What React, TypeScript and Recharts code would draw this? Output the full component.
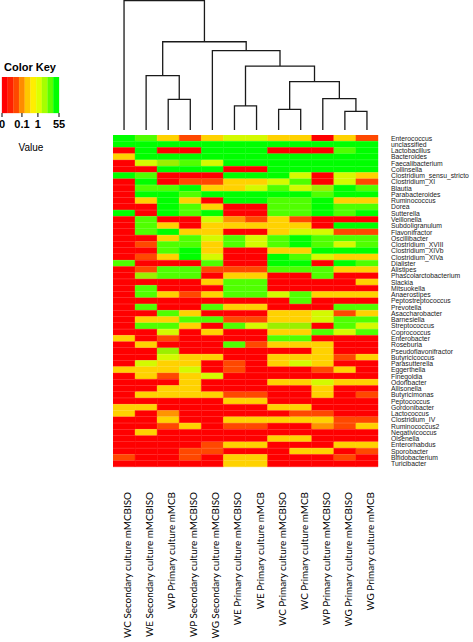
import React from "react";
import { BarChart, Bar, Cell, XAxis, YAxis, LineChart, Line } from "recharts";

// value levels
const R = 0, O = 0.03, A = 0.07, G = 0.2, Y = 1, V = 2.5, L = 8, F = 40;

const genera = [
  "Enterococcus", "unclassified", "Lactobacillus", "Bacteroides", "Faecalibacterium", "Collinsella",
  "Clostridium_sensu_stricto", "Clostridium_XI", "Blautia", "Parabacteroides", "Ruminococcus", "Dorea",
  "Sutterella", "Veillonella", "Subdoligranulum", "Flavonifractor", "Oscillibacter", "Clostridium_XVIII",
  "Clostridium_XIVb", "Clostridium_XIVa", "Dialister", "Alistipes", "Phascolarctobacterium", "Slackia",
  "Mitsuokella", "Anaerostipes", "Peptostreptococcus", "Prevotella", "Asaccharobacter", "Barnesiella",
  "Streptococcus", "Coprococcus", "Enterobacter", "Roseburia", "Pseudoflavonifractor", "Butyricicoccus",
  "Parasutterella", "Eggerthella", "Finegoldia", "Odoribacter", "Allisonella", "Butyricimonas",
  "Peptococcus", "Gordonibacter", "Lactococcus", "Clostridium_IV", "Ruminococcus2", "Negativicoccus",
  "Olsenella", "Enterorhabdus", "Sporobacter", "Bifidobacterium", "Turicibacter",
];

const samples = [
  "WC Secondary culture mMCBISO", "WE Secondary culture mMCBISO", "WP Primary culture mMCB",
  "WP Secondary culture mMCBISO", "WG Secondary culture mMCBISO", "WE Primary culture mMCBISO",
  "WE Primary culture mMCB", "WC Primary culture mMCBISO", "WC Primary culture mMCB",
  "WP Primary culture mMCBISO", "WG Primary culture mMCBISO", "WG  Primary culture mMCB",
];

const wcSecondaryISO = [F,F,R,G,R,R,F,R,R,R,R,R,F,R,R,R,R,R,R,R,L,R,R,R,R,R,R,R,R,R,R,R,G,R,R,R,R,G,R,R,R,R,R,G,G,R,R,R,R,R,R,O,R];
const weSecondaryISO = [L,F,F,F,Y,R,L,F,L,F,G,R,R,L,L,L,R,O,R,O,R,O,V,R,L,L,R,L,R,G,L,R,R,G,R,R,Y,G,G,R,R,G,R,G,R,R,R,G,R,R,R,R,R];
const wpPrimary = [G,F,R,F,V,F,R,R,L,F,F,F,F,R,G,F,G,L,L,G,R,L,L,R,R,G,R,R,L,G,L,Y,O,R,V,Y,G,G,O,R,G,G,R,R,A,G,O,R,R,R,R,R,R];
const wpSecondaryISO = [O,F,R,F,L,F,R,O,F,L,G,L,L,R,R,G,L,L,F,F,R,L,L,R,R,O,R,R,G,L,G,R,R,R,R,G,G,Y,G,G,G,G,R,R,R,R,G,R,R,R,O,O,R];
const wgSecondaryISO = [G,F,F,F,Y,F,R,O,G,F,R,G,F,Y,G,G,Y,G,G,Y,L,O,R,G,R,G,R,L,R,L,R,G,R,R,R,G,R,R,Y,R,R,G,R,R,R,R,R,R,R,O,O,R,R];
const wePrimaryISO = [Y,F,F,F,F,R,F,G,G,F,F,R,R,A,G,R,L,L,R,R,R,O,G,L,L,L,R,G,R,O,L,R,R,L,R,R,O,O,R,R,R,O,G,R,R,G,O,R,R,G,R,G,G];
const wePrimary = [Y,F,F,F,F,R,F,G,Y,F,F,R,R,O,G,R,Y,Y,R,R,R,O,G,L,L,L,R,G,R,O,Y,R,R,O,R,R,R,R,R,R,R,O,G,R,R,G,O,R,R,G,R,G,G];
const wcPrimaryISO = [G,F,R,F,F,F,F,Y,L,F,L,L,L,G,G,G,L,L,G,F,F,L,R,R,R,Y,R,R,G,G,V,G,L,G,R,G,G,R,R,G,R,R,R,G,R,G,R,R,G,R,R,R,R];
const wcPrimary = [G,F,R,F,F,F,Y,L,Y,F,L,L,L,O,G,Y,F,F,G,L,F,L,R,R,R,L,L,R,G,G,V,G,L,G,R,G,Y,R,R,G,R,R,R,G,O,G,R,R,G,R,G,R,R];
const wpPrimaryISO = [R,F,R,F,F,F,R,R,V,L,F,F,F,R,R,Y,L,L,F,Y,R,L,L,R,R,G,R,R,Y,Y,R,L,R,G,G,G,G,O,R,Y,G,G,R,R,O,G,A,R,R,R,G,R,R];
const wgPrimaryISO = [G,F,L,F,F,F,Y,Y,F,F,G,L,L,R,F,O,L,Y,F,G,F,G,R,R,R,G,R,L,O,L,L,Y,R,R,R,O,R,G,R,G,R,R,R,R,R,O,O,R,R,G,R,O,R];
const wgPrimary = [O,F,F,F,F,F,G,O,L,F,G,L,F,R,F,O,L,L,F,G,L,G,R,G,R,G,R,L,G,L,Y,L,R,R,R,G,R,R,R,G,R,O,R,R,R,O,G,R,R,G,O,R,R];

const columns = [
  wcSecondaryISO, weSecondaryISO, wpPrimary, wpSecondaryISO, wgSecondaryISO, wePrimaryISO,
  wePrimary, wcPrimaryISO, wcPrimary, wpPrimaryISO, wgPrimaryISO, wgPrimary,
];

// column dendrogram (hclust-style merges: negative = leaf, positive = earlier merge)
const merges: [number, number, number][] = [
  [-11, -12, 0.144],
  [-8, -9, 0.159],
  [-6, -7, 0.185],
  [-3, -4, 0.236],
  [-10, 1, 0.241],
  [2, 5, 0.372],
  [-2, 4, 0.418],
  [3, 6, 0.492],
  [-5, 8, 0.61],
  [7, 9, 0.679],
  [-1, 10, 0.995],
];

// colour key
const keyColors = ["#FF0000", "#FF2200", "#FF4800", "#FF8C00", "#FFC800", "#FFEE00", "#DDFF00", "#A6FF00", "#5CFF00", "#00FF00"];
const keyTickLabels = ["0", "0.1", "1", "55"];
const keyTickPos = [0, 3.5, 6.3, 10];

function colorFor(v: number): string {
  if (v < 0.01) return "#FF0000";
  if (v < 0.05) return "#FF4800";
  if (v < 0.1) return "#FF9400";
  if (v < 0.5) return "#FFD200";
  if (v < 1.5) return "#D4FA00";
  if (v < 4) return "#9BEF00";
  if (v < 20) return "#50FF00";
  return "#00FF00";
}

const links: { x: number; h: number }[][] = [];
(() => {
  const nx: number[] = [];
  const nh: number[] = [];
  const pos = (r: number) => (r < 0 ? { x: -r - 1 + 0.5, h: 0 } : { x: nx[r - 1], h: nh[r - 1] });
  merges.forEach(([a, b, h], i) => {
    const pa = pos(a);
    const pb = pos(b);
    links.push([
      { x: pa.x, h: pa.h },
      { x: pa.x, h },
      { x: pb.x, h },
      { x: pb.x, h: pb.h },
    ]);
    nx[i] = (pa.x + pb.x) / 2;
    nh[i] = h;
  });
})();

const heatRows = genera.map((name) => {
  const o: Record<string, any> = { name };
  columns.forEach((_, c) => (o[`c${c}`] = 1));
  return o;
});

const keyRow = [Object.fromEntries([["name", "key"], ...keyColors.map((_, i) => [`k${i}`, 1])])];

const colTicks = samples.map((_, i) => i + 0.5);

const ColTick = (props: any) => {
  const { x, y, payload } = props;
  const idx = Math.floor(payload.value);
  return (
    <text
      transform={`translate(${x + 7},${y}) rotate(-90)`}
      textAnchor="end"
      fontFamily="Lato, 'Open Sans', sans-serif"
      fontSize={9.9}
      fill="#000"
    >
      {samples[idx]}
    </text>
  );
};

export default function App() {
  return (
    <div style={{ position: "absolute", left: 0, top: 0, width: 473, height: 642, background: "#fff", overflow: "hidden" }}>
      <svg style={{ position: "absolute", left: 0, top: 0 }} width={70} height={160}>
        <text x={30} y={71} textAnchor="middle" fontFamily="Liberation Sans, Arial, sans-serif" fontWeight="bold" fontSize={11} fill="#000">
          Color Key
        </text>
        <text x={31} y={151} textAnchor="middle" fontFamily="Liberation Sans, Arial, sans-serif" fontSize={10} fill="#000">
          Value
        </text>
      </svg>

      <div style={{ position: "absolute", left: 0, top: 77 }}>
        <BarChart width={70} height={56} data={keyRow} layout="vertical" margin={{ top: 0, right: 11, bottom: 0, left: 2 }} barCategoryGap={0} barGap={0}>
          <XAxis
            type="number"
            domain={[0, 10]}
            ticks={keyTickPos}
            interval={0}
            tickFormatter={(v: number) => keyTickLabels[keyTickPos.indexOf(v)]}
            height={20}
            axisLine={false}
            tickSize={4}
            tickMargin={3}
            tickLine={{ stroke: "#000" }}
            tick={{ fontSize: 11, fontWeight: "bold", fill: "#000", fontFamily: "Liberation Sans, Arial, sans-serif" }}
          />
          <YAxis type="category" dataKey="name" hide />
          {keyColors.map((c, i) => (
            <Bar key={i} dataKey={`k${i}`} stackId="k" fill={c} stroke={c} strokeWidth={0.3} isAnimationActive={false} />
          ))}
        </BarChart>
      </div>

      <div style={{ position: "absolute", left: 113, top: 0 }}>
        <LineChart width={265} height={130} margin={{ top: 0, right: 0, bottom: 0, left: 0 }}>
          <XAxis type="number" dataKey="x" domain={[0, 12]} hide />
          <YAxis type="number" dataKey="h" domain={[0, 1]} hide />
          {links.map((d, i) => (
            <Line key={i} data={d} dataKey="h" type="linear" stroke="#1a1a1a" strokeWidth={1.3} dot={false} activeDot={false} isAnimationActive={false} />
          ))}
        </LineChart>
      </div>

      <div style={{ position: "absolute", left: 113, top: 135 }}>
        <BarChart width={360} height={507} data={heatRows} layout="vertical" margin={{ top: 0, right: 0, bottom: 0, left: 0 }} barCategoryGap={0} barGap={0}>
          <XAxis
            type="number"
            domain={[0, 12]}
            ticks={colTicks}
            interval={0}
            height={175}
            axisLine={false}
            tickLine={false}
            tickSize={6}
            tickMargin={19}
            tick={<ColTick />}
          />
          <YAxis
            type="category"
            dataKey="name"
            orientation="right"
            width={95}
            interval={0}
            axisLine={false}
            tickLine={false}
            tickSize={6}
            tickMargin={7}
            tick={{ fontSize: 6.8, fill: "#222", fontFamily: "Liberation Sans, Arial, sans-serif", textAnchor: "start" }}
          />
          {columns.map((col, c) => (
            <Bar key={c} dataKey={`c${c}`} stackId="s" isAnimationActive={false}>
              {col.map((v, r) => (
                <Cell key={r} fill={colorFor(v)} stroke={colorFor(v)} strokeWidth={0.4} />
              ))}
            </Bar>
          ))}
        </BarChart>
      </div>
    </div>
  );
}
